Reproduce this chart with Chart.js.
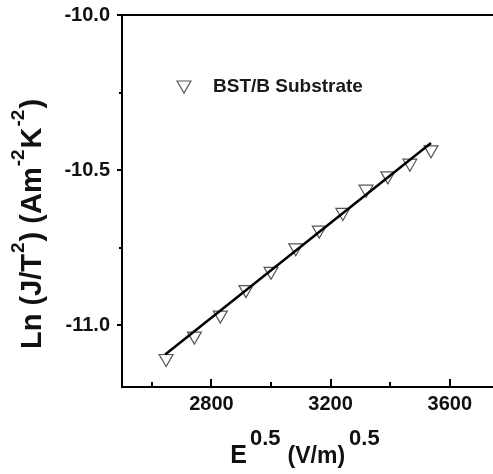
<!DOCTYPE html>
<html>
<head>
<meta charset="utf-8">
<script src="https://cdn.jsdelivr.net/npm/chart.js@4/dist/chart.umd.min.js"></script>
<style>
  html, body { margin: 0; padding: 0; background: #fff; overflow: hidden; }
  #wrap { width: 493px; height: 474px; position: relative; }
</style>
</head>
<body>
<div id="wrap"><canvas id="c" width="493" height="474"></canvas></div>
<script>
// ---- data ----
const seriesName = 'BST/B Substrate';
const xValues = [2648, 2743, 2830, 2916, 3000, 3083, 3162, 3241, 3319, 3392, 3466, 3537];
const yValues = [-11.108, -11.036, -10.968, -10.886, -10.827, -10.751, -10.694, -10.637, -10.562, -10.519, -10.478, -10.435];
const fitX = [2645, 3537];
const fitY = [-11.095, -10.413];
const xMajorTicks = [2800, 3200, 3600];
const yMajorTicks = [-11.0, -10.5, -10.0];

const FONT = '"Liberation Sans", Arial, sans-serif';

const pts = xValues.map((x, i) => ({ x: x, y: yValues[i] }));
const fitPts = fitX.map((x, i) => ({ x: x, y: fitY[i] }));

function isMajor(v, list) { return list.some(m => Math.abs(m - v) < 1e-6); }

function richWidth(ctx, parts) {
  let w = 0;
  for (const p of parts) {
    ctx.font = 'bold ' + p.size + 'px ' + FONT;
    w += (p.gap || 0) + ctx.measureText(p.t).width;
  }
  return w;
}
function drawRich(ctx, parts, x, y) {
  let cx = x;
  for (const p of parts) {
    ctx.font = 'bold ' + p.size + 'px ' + FONT;
    cx += (p.gap || 0);
    ctx.fillText(p.t, cx, y - (p.rise || 0));
    cx += ctx.measureText(p.t).width;
  }
}

const decor = {
  id: 'decor',
  afterDraw(chart) {
    const ctx = chart.ctx;
    const ca = chart.chartArea;
    const xs = chart.scales.x, ys = chart.scales.y;
    ctx.save();
    ctx.strokeStyle = '#000';
    // top frame line
    ctx.lineWidth = 2;
    ctx.beginPath();
    ctx.moveTo(ca.left - 1, ca.top);
    ctx.lineTo(ca.right + 2, ca.top);
    ctx.stroke();
    // x ticks (inward)
    xs.ticks.forEach(t => {
      const px = Math.round(xs.getPixelForValue(t.value));
      const len = isMajor(t.value, xMajorTicks) ? 8 : 5;
      ctx.beginPath();
      ctx.moveTo(px, ca.bottom);
      ctx.lineTo(px, ca.bottom - len);
      ctx.stroke();
    });
    // y ticks (outward)
    ys.ticks.forEach(t => {
      const py = Math.round(ys.getPixelForValue(t.value));
      const len = isMajor(t.value, yMajorTicks) ? 5 : 3;
      ctx.beginPath();
      ctx.moveTo(ca.left, py);
      ctx.lineTo(ca.left - len, py);
      ctx.stroke();
    });
    // legend
    const lx = ca.left + 62, ly = ca.top + 70;
    ctx.strokeStyle = '#555';
    ctx.lineWidth = 1.2;
    const r = 8;
    ctx.beginPath();
    for (let k = 0; k < 3; k++) {
      const a = Math.PI + k * 2 * Math.PI / 3;
      const vx = lx + Math.sin(a) * r, vy = ly - Math.cos(a) * r;
      if (k === 0) ctx.moveTo(vx, vy); else ctx.lineTo(vx, vy);
    }
    ctx.closePath();
    ctx.stroke();
    ctx.fillStyle = '#1a1a1a';
    ctx.textAlign = 'left';
    ctx.textBaseline = 'alphabetic';
    ctx.font = 'bold 19px ' + FONT;
    ctx.fillText(seriesName, lx + 29, ly + 7);

    // x axis title: E^0.5 (V/m)^0.5
    ctx.fillStyle = '#111';
    const xParts = [
      { t: 'E', size: 25 },
      { t: '0.5', size: 22, rise: 18, gap: 3 },
      { t: '(V/m)', size: 23, gap: 7 },
      { t: '0.5', size: 22, rise: 18, gap: 4 }
    ];
    const xw = richWidth(ctx, xParts);
    drawRich(ctx, xParts, 307 - xw / 2 - 2, 463);

    // y axis title: Ln (J/T^2) (Am^-2K^-2)
    const yParts = [
      { t: 'Ln (J/T', size: 29 },
      { t: '2', size: 19, rise: 17, gap: 1 },
      { t: ') (Am', size: 29, gap: 1 },
      { t: '-2', size: 19, rise: 17, gap: 1 },
      { t: 'K', size: 29, gap: 1 },
      { t: '-2', size: 19, rise: 17, gap: 1 },
      { t: ')', size: 29, gap: 1 }
    ];
    const yw = richWidth(ctx, yParts);
    ctx.save();
    ctx.translate(41, 224 + yw / 2);
    ctx.rotate(-Math.PI / 2);
    drawRich(ctx, yParts, 0, 0);
    ctx.restore();
    ctx.restore();
  }
};

new Chart(document.getElementById('c'), {
  type: 'scatter',
  data: {
    datasets: [
      {
        label: 'fit',
        data: fitPts,
        showLine: true,
        borderColor: '#000',
        borderWidth: 2.5,
        pointRadius: 0,
        fill: false,
        order: 0
      },
      {
        label: seriesName,
        data: pts,
        pointStyle: 'triangle',
        rotation: 180,
        pointRadius: 8,
        pointHoverRadius: 8,
        backgroundColor: 'rgba(0,0,0,0)',
        borderColor: '#555',
        pointBorderWidth: 1.2,
        borderWidth: 1.2,
        order: 1
      }
    ]
  },
  options: {
    responsive: false,
    animation: false,
    events: [],
    layout: { autoPadding: false, padding: { top: 15, left: 0, right: 0, bottom: 0 } },
    plugins: { legend: { display: false }, tooltip: { enabled: false } },
    scales: {
      x: {
        type: 'linear',
        min: 2500,
        max: 3745,
        afterFit(s) { s.height = 87; s.paddingLeft = 0; s.paddingRight = 0; },
        grid: { display: true, drawOnChartArea: false, drawTicks: false },
        border: { display: true, color: '#000', width: 2 },
        ticks: {
          stepSize: 200,
          includeBounds: false,
          autoSkip: false,
          maxRotation: 0,
          padding: 5,
          color: '#111',
          font: { family: FONT, size: 20, weight: 'bold' },
          callback: (v) => isMajor(v, xMajorTicks) ? String(v) : ''
        }
      },
      y: {
        type: 'linear',
        min: -11.2,
        max: -10.0,
        afterFit(s) { s.width = 122; s.paddingTop = 0; s.paddingBottom = 0; },
        grid: { display: true, drawOnChartArea: false, drawTicks: false },
        border: { display: true, color: '#000', width: 2 },
        ticks: {
          stepSize: 0.25,
          includeBounds: false,
          autoSkip: false,
          padding: 12,
          color: '#111',
          font: { family: FONT, size: 20, weight: 'bold' },
          callback: (v) => isMajor(v, yMajorTicks) ? v.toFixed(1) : ''
        }
      }
    }
  },
  plugins: [decor]
});
</script>
</body>
</html>
